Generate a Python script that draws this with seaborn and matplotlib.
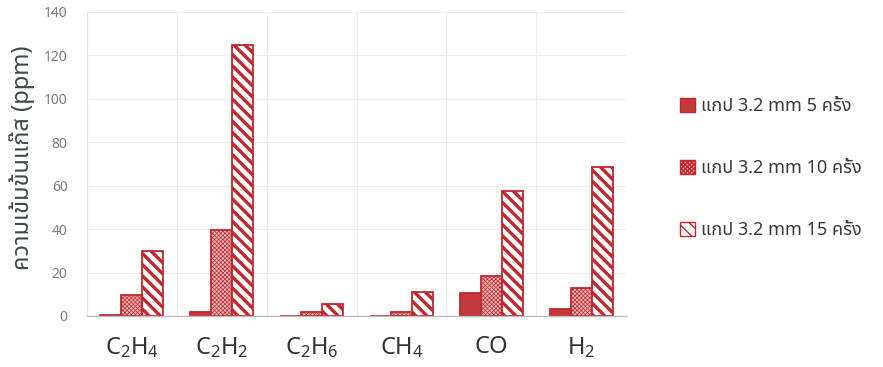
import numpy as np
import pandas as pd
import seaborn as sns
import matplotlib
matplotlib.use("Agg")
import matplotlib.pyplot as plt
from matplotlib import font_manager
from matplotlib.ft2font import FT2Font
from matplotlib.patches import Patch

# --- data -----------------------------------------------------------------
gases = ["C2H4", "C2H2", "C2H6", "CH4", "CO", "H2"]
gas_labels = [r"$\mathregular{C_2H_4}$", r"$\mathregular{C_2H_2}$", r"$\mathregular{C_2H_6}$",
              r"$\mathregular{CH_4}$", r"$\mathregular{CO}$", r"$\mathregular{H_2}$"]
series_names = ["แกป 3.2 mm 5 ครั้ง", "แกป 3.2 mm 10 ครั้ง", "แกป 3.2 mm 15 ครั้ง"]
gap_5 = [0.6, 2.0, 0.0, 0.0, 10.5, 3.0]
gap_10 = [9.5, 39.5, 2.0, 2.0, 18.5, 13.0]
gap_15 = [30.0, 124.5, 5.5, 11.0, 57.5, 68.5]
y_ticks = [0, 20, 40, 60, 80, 100, 120, 140]
y_label = "ความเข้มข้นแก๊ส (ppm)"


def find_thai_font():
    """Return the name of an installed family that has Thai glyphs, if any."""
    preferred = ["Noto Sans Thai", "Noto Sans Thai UI", "Noto Sans Thai Looped",
                 "Loma", "Garuda", "Sarabun", "TH Sarabun New", "Tlwg Typist"]
    candidates = {}
    for f in font_manager.fontManager.ttflist:
        try:
            cmap = FT2Font(f.fname).get_charmap()
        except Exception:
            continue
        if 0x0E01 in cmap and 0x0E49 in cmap:
            candidates[f.name] = f.fname
    for name in preferred:
        if name in candidates:
            return name
    if candidates:
        return sorted(candidates)[0]
    return None


sns.set_theme(style="white")
thai = find_thai_font()
families = ([thai] if thai else []) + ["DejaVu Sans"]
plt.rcParams["font.family"] = families
plt.rcParams["mathtext.fontset"] = "dejavusans"

df = pd.DataFrame({
    "gas": gases * 3,
    "value": gap_5 + gap_10 + gap_15,
    "series": [series_names[0]] * 6 + [series_names[1]] * 6 + [series_names[2]] * 6,
})

red = "#C0282E"
faces = ["#C2383C", "#EFB9B9", "#FFFFFF"]
hatches = [None, "xxxxxxxx", "\\\\\\"]
hatch_lw = [1.0, 0.5, 2.4]

fig = plt.figure(figsize=(8.83, 3.67), dpi=100)
ax = fig.add_axes([0.0985, 0.139, 0.6105, 0.829])

sns.barplot(data=df, x="gas", y="value", hue="series", hue_order=series_names,
            order=gases, width=0.7, ax=ax, legend=False, palette=faces,
            saturation=1, errorbar=None)

for cont, fc, h, lw in zip(ax.containers, faces, hatches, hatch_lw):
    for bar in cont:
        bar.set_facecolor(fc)
        bar.set_edgecolor(red)
        bar.set_linewidth(1.3)
        if h:
            bar.set_hatch(h)
            try:
                bar.set_hatch_linewidth(lw)
            except AttributeError:
                pass

ax.set_xlim(-0.5, 5.5)
ax.set_ylim(0, 140)
ax.set_yticks(y_ticks)
ax.set_yticklabels([str(t) for t in y_ticks])
ax.set_xticks(range(len(gases)))
ax.set_xticklabels(gas_labels)

# light grid: horizontal at ticks, vertical between categories
ax.set_xticks(np.arange(-0.5, 6.0, 1.0), minor=True)
ax.grid(False)
ax.grid(axis="y", which="major", color="#EBEBEB", lw=0.8)
ax.grid(axis="x", which="minor", color="#EBEBEB", lw=0.8)
ax.set_axisbelow(True)

for side in ["top", "right"]:
    ax.spines[side].set_visible(False)
ax.spines["left"].set_color("#E6E6E6")
ax.spines["left"].set_linewidth(0.8)
ax.spines["bottom"].set_color("#BDBDBD")
ax.spines["bottom"].set_linewidth(1.0)

ax.tick_params(axis="y", length=0, labelsize=10, labelcolor="#7A7A7A", pad=14)
ax.tick_params(axis="x", which="both", length=0, labelsize=17, labelcolor="#333333", pad=14)

ax.set_xlabel("")
ax.set_ylabel(y_label, fontsize=17, color="#3E4A46")
ax.yaxis.set_label_coords(-0.097, 0.52)

handles = [Patch(facecolor=fc, edgecolor=red, hatch=h, lw=1.0) for fc, h in zip(faces, hatches)]
leg = fig.legend(handles, series_names, loc="upper left", bbox_to_anchor=(0.752, 0.78),
                 frameon=False, fontsize=13, handlelength=0.8, handleheight=0.8,
                 handletextpad=0.35, labelspacing=2.45)
for t in leg.get_texts():
    t.set_color("#3A3A3A")

fig.savefig("out.png", dpi=100)
